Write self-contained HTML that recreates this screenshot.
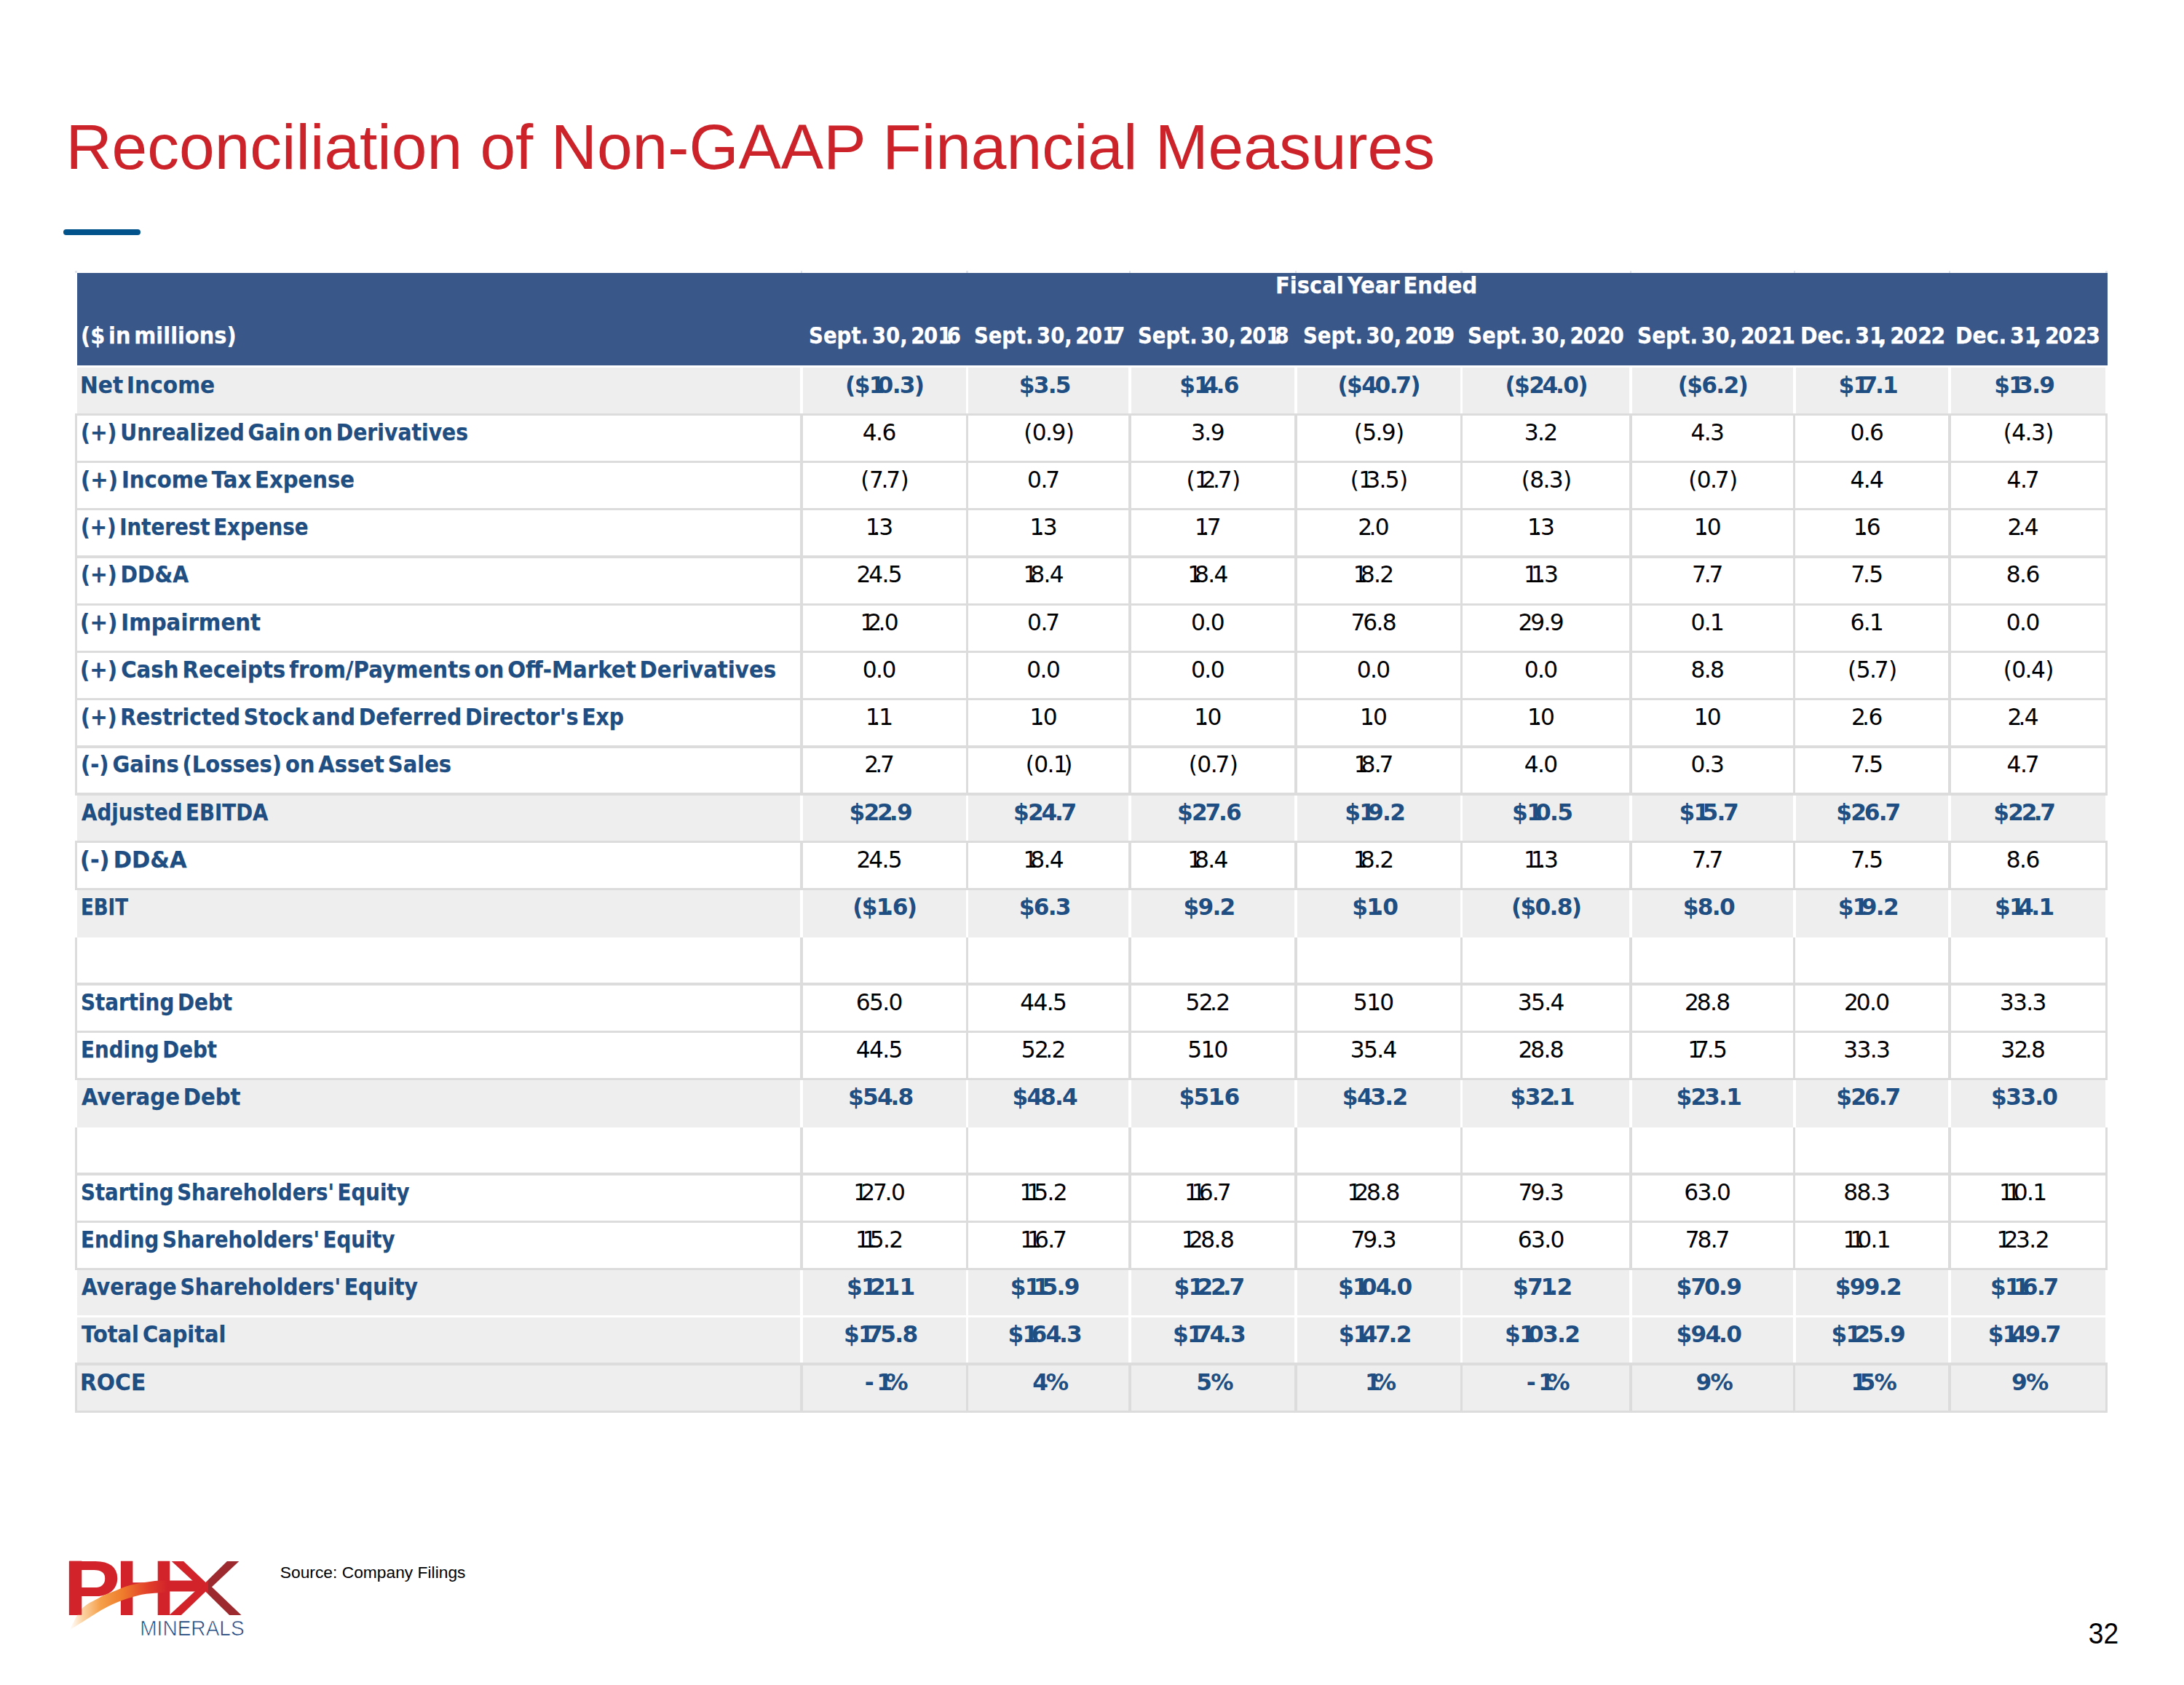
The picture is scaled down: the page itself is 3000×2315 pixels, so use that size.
<!DOCTYPE html>
<html lang="en">
<head>
<meta charset="utf-8">
<title>Reconciliation of Non-GAAP Financial Measures</title>
<style>
html,body{margin:0;padding:0;background:#fff;}
body{width:3000px;height:2315px;position:relative;overflow:hidden;font-family:"DejaVu Sans","Liberation Sans",sans-serif;}
.abs{position:absolute;}
.title{position:absolute;left:90.4px;top:152.1px;font-family:"Liberation Sans",sans-serif;font-size:87.5px;line-height:100px;color:#cc2229;white-space:nowrap;letter-spacing:0px;}
.bar{position:absolute;left:87px;top:315px;width:106px;height:8.4px;border-radius:4.2px;background:#02528b;}
.r{position:absolute;}
.t{position:absolute;white-space:nowrap;font-size:31.25px;line-height:40px;height:40px;}
.lab{font-weight:bold;color:#1f4e82;transform-origin:0 50%;left:110.2px;word-spacing:-0.18em;-webkit-text-stroke:0.25px #1f4e82;}
.hl{font-weight:bold;color:#fff;transform-origin:0 50%;word-spacing:-0.18em;-webkit-text-stroke:0.25px #fff;}
.n{color:#000;text-align:center;letter-spacing:-0.052em;}
.b{font-weight:bold;color:#1f4e82;text-align:center;letter-spacing:-0.055em;}
.t u,.t s{text-decoration:none;}
.t em{font-style:normal;margin-right:0.17em;}
.t u{margin-right:-0.05em;}
.t s{margin-right:-0.1em;}
.n i,.b i,.hl i{font-style:normal;}
.n b{font-weight:normal;margin:0 1px;}
.hl i{margin-right:-0.25em;}
.n i{margin-right:-0.27em;}
.b i{margin-right:-0.26em;}
.n i.p{margin-right:-0.16em;}
.src{position:absolute;left:384.8px;top:2141.6px;font-family:"Liberation Sans",sans-serif;font-size:22.8px;line-height:36px;color:#000;white-space:nowrap;}
.pg{position:absolute;left:2868.8px;top:2218.2px;font-family:"Liberation Sans",sans-serif;font-size:37.2px;line-height:50px;color:#000;white-space:nowrap;transform:scaleY(1.075);transform-origin:0 11.9px;}
</style>
</head>
<body>
<div class="title">Reconciliation of Non-GAAP Financial Measures</div>
<div class="bar"></div>
<div class="r" style="left:103.30px;top:371.50px;width:2.40px;height:3.50px;background:#dfe4ee"></div>
<div class="r" style="left:1099.80px;top:371.50px;width:2.40px;height:3.50px;background:#dfe4ee"></div>
<div class="r" style="left:1327.30px;top:371.50px;width:2.40px;height:3.50px;background:#dfe4ee"></div>
<div class="r" style="left:1550.80px;top:371.50px;width:2.40px;height:3.50px;background:#dfe4ee"></div>
<div class="r" style="left:1778.80px;top:371.50px;width:2.40px;height:3.50px;background:#dfe4ee"></div>
<div class="r" style="left:2006.20px;top:371.50px;width:2.40px;height:3.50px;background:#dfe4ee"></div>
<div class="r" style="left:2238.80px;top:371.50px;width:2.40px;height:3.50px;background:#dfe4ee"></div>
<div class="r" style="left:2463.50px;top:371.50px;width:2.40px;height:3.50px;background:#dfe4ee"></div>
<div class="r" style="left:2676.80px;top:371.50px;width:2.40px;height:3.50px;background:#dfe4ee"></div>
<div class="r" style="left:2892.30px;top:371.50px;width:2.40px;height:3.50px;background:#dfe4ee"></div>
<div class="r" style="left:106.00px;top:375.00px;width:2789.00px;height:126.50px;background:#3a578a"></div>
<div class="r" style="left:106.15px;top:505.40px;width:2785.70px;height:63.80px;background:#eeeeee"></div>
<div class="r" style="left:106.15px;top:1091.12px;width:2785.70px;height:65.24px;background:#eeeeee"></div>
<div class="r" style="left:106.15px;top:1221.60px;width:2785.70px;height:66.89px;background:#eeeeee"></div>
<div class="r" style="left:106.15px;top:1482.56px;width:2785.70px;height:66.89px;background:#eeeeee"></div>
<div class="r" style="left:106.15px;top:1743.52px;width:2785.70px;height:65.24px;background:#eeeeee"></div>
<div class="r" style="left:106.15px;top:1808.76px;width:2785.70px;height:65.24px;background:#eeeeee"></div>
<div class="r" style="left:106.15px;top:1874.00px;width:2785.70px;height:65.24px;background:#eeeeee"></div>
<div class="r" style="left:1099.15px;top:503.96px;width:3.70px;height:65.24px;background:#ffffff"></div>
<div class="r" style="left:1326.65px;top:503.96px;width:3.70px;height:65.24px;background:#ffffff"></div>
<div class="r" style="left:1550.15px;top:503.96px;width:3.70px;height:65.24px;background:#ffffff"></div>
<div class="r" style="left:1778.15px;top:503.96px;width:3.70px;height:65.24px;background:#ffffff"></div>
<div class="r" style="left:2005.55px;top:503.96px;width:3.70px;height:65.24px;background:#ffffff"></div>
<div class="r" style="left:2238.15px;top:503.96px;width:3.70px;height:65.24px;background:#ffffff"></div>
<div class="r" style="left:2462.85px;top:503.96px;width:3.70px;height:65.24px;background:#ffffff"></div>
<div class="r" style="left:2676.15px;top:503.96px;width:3.70px;height:65.24px;background:#ffffff"></div>
<div class="r" style="left:102.85px;top:569.20px;width:3.30px;height:65.24px;background:#dcdcdc"></div>
<div class="r" style="left:1099.35px;top:569.20px;width:3.30px;height:65.24px;background:#dcdcdc"></div>
<div class="r" style="left:1326.85px;top:569.20px;width:3.30px;height:65.24px;background:#dcdcdc"></div>
<div class="r" style="left:1550.35px;top:569.20px;width:3.30px;height:65.24px;background:#dcdcdc"></div>
<div class="r" style="left:1778.35px;top:569.20px;width:3.30px;height:65.24px;background:#dcdcdc"></div>
<div class="r" style="left:2005.75px;top:569.20px;width:3.30px;height:65.24px;background:#dcdcdc"></div>
<div class="r" style="left:2238.35px;top:569.20px;width:3.30px;height:65.24px;background:#dcdcdc"></div>
<div class="r" style="left:2463.05px;top:569.20px;width:3.30px;height:65.24px;background:#dcdcdc"></div>
<div class="r" style="left:2676.35px;top:569.20px;width:3.30px;height:65.24px;background:#dcdcdc"></div>
<div class="r" style="left:2891.85px;top:569.20px;width:3.30px;height:65.24px;background:#dcdcdc"></div>
<div class="r" style="left:102.85px;top:634.44px;width:3.30px;height:65.24px;background:#dcdcdc"></div>
<div class="r" style="left:1099.35px;top:634.44px;width:3.30px;height:65.24px;background:#dcdcdc"></div>
<div class="r" style="left:1326.85px;top:634.44px;width:3.30px;height:65.24px;background:#dcdcdc"></div>
<div class="r" style="left:1550.35px;top:634.44px;width:3.30px;height:65.24px;background:#dcdcdc"></div>
<div class="r" style="left:1778.35px;top:634.44px;width:3.30px;height:65.24px;background:#dcdcdc"></div>
<div class="r" style="left:2005.75px;top:634.44px;width:3.30px;height:65.24px;background:#dcdcdc"></div>
<div class="r" style="left:2238.35px;top:634.44px;width:3.30px;height:65.24px;background:#dcdcdc"></div>
<div class="r" style="left:2463.05px;top:634.44px;width:3.30px;height:65.24px;background:#dcdcdc"></div>
<div class="r" style="left:2676.35px;top:634.44px;width:3.30px;height:65.24px;background:#dcdcdc"></div>
<div class="r" style="left:2891.85px;top:634.44px;width:3.30px;height:65.24px;background:#dcdcdc"></div>
<div class="r" style="left:102.85px;top:699.68px;width:3.30px;height:65.24px;background:#dcdcdc"></div>
<div class="r" style="left:1099.35px;top:699.68px;width:3.30px;height:65.24px;background:#dcdcdc"></div>
<div class="r" style="left:1326.85px;top:699.68px;width:3.30px;height:65.24px;background:#dcdcdc"></div>
<div class="r" style="left:1550.35px;top:699.68px;width:3.30px;height:65.24px;background:#dcdcdc"></div>
<div class="r" style="left:1778.35px;top:699.68px;width:3.30px;height:65.24px;background:#dcdcdc"></div>
<div class="r" style="left:2005.75px;top:699.68px;width:3.30px;height:65.24px;background:#dcdcdc"></div>
<div class="r" style="left:2238.35px;top:699.68px;width:3.30px;height:65.24px;background:#dcdcdc"></div>
<div class="r" style="left:2463.05px;top:699.68px;width:3.30px;height:65.24px;background:#dcdcdc"></div>
<div class="r" style="left:2676.35px;top:699.68px;width:3.30px;height:65.24px;background:#dcdcdc"></div>
<div class="r" style="left:2891.85px;top:699.68px;width:3.30px;height:65.24px;background:#dcdcdc"></div>
<div class="r" style="left:102.85px;top:764.92px;width:3.30px;height:65.24px;background:#dcdcdc"></div>
<div class="r" style="left:1099.35px;top:764.92px;width:3.30px;height:65.24px;background:#dcdcdc"></div>
<div class="r" style="left:1326.85px;top:764.92px;width:3.30px;height:65.24px;background:#dcdcdc"></div>
<div class="r" style="left:1550.35px;top:764.92px;width:3.30px;height:65.24px;background:#dcdcdc"></div>
<div class="r" style="left:1778.35px;top:764.92px;width:3.30px;height:65.24px;background:#dcdcdc"></div>
<div class="r" style="left:2005.75px;top:764.92px;width:3.30px;height:65.24px;background:#dcdcdc"></div>
<div class="r" style="left:2238.35px;top:764.92px;width:3.30px;height:65.24px;background:#dcdcdc"></div>
<div class="r" style="left:2463.05px;top:764.92px;width:3.30px;height:65.24px;background:#dcdcdc"></div>
<div class="r" style="left:2676.35px;top:764.92px;width:3.30px;height:65.24px;background:#dcdcdc"></div>
<div class="r" style="left:2891.85px;top:764.92px;width:3.30px;height:65.24px;background:#dcdcdc"></div>
<div class="r" style="left:102.85px;top:830.16px;width:3.30px;height:65.24px;background:#dcdcdc"></div>
<div class="r" style="left:1099.35px;top:830.16px;width:3.30px;height:65.24px;background:#dcdcdc"></div>
<div class="r" style="left:1326.85px;top:830.16px;width:3.30px;height:65.24px;background:#dcdcdc"></div>
<div class="r" style="left:1550.35px;top:830.16px;width:3.30px;height:65.24px;background:#dcdcdc"></div>
<div class="r" style="left:1778.35px;top:830.16px;width:3.30px;height:65.24px;background:#dcdcdc"></div>
<div class="r" style="left:2005.75px;top:830.16px;width:3.30px;height:65.24px;background:#dcdcdc"></div>
<div class="r" style="left:2238.35px;top:830.16px;width:3.30px;height:65.24px;background:#dcdcdc"></div>
<div class="r" style="left:2463.05px;top:830.16px;width:3.30px;height:65.24px;background:#dcdcdc"></div>
<div class="r" style="left:2676.35px;top:830.16px;width:3.30px;height:65.24px;background:#dcdcdc"></div>
<div class="r" style="left:2891.85px;top:830.16px;width:3.30px;height:65.24px;background:#dcdcdc"></div>
<div class="r" style="left:102.85px;top:895.40px;width:3.30px;height:65.24px;background:#dcdcdc"></div>
<div class="r" style="left:1099.35px;top:895.40px;width:3.30px;height:65.24px;background:#dcdcdc"></div>
<div class="r" style="left:1326.85px;top:895.40px;width:3.30px;height:65.24px;background:#dcdcdc"></div>
<div class="r" style="left:1550.35px;top:895.40px;width:3.30px;height:65.24px;background:#dcdcdc"></div>
<div class="r" style="left:1778.35px;top:895.40px;width:3.30px;height:65.24px;background:#dcdcdc"></div>
<div class="r" style="left:2005.75px;top:895.40px;width:3.30px;height:65.24px;background:#dcdcdc"></div>
<div class="r" style="left:2238.35px;top:895.40px;width:3.30px;height:65.24px;background:#dcdcdc"></div>
<div class="r" style="left:2463.05px;top:895.40px;width:3.30px;height:65.24px;background:#dcdcdc"></div>
<div class="r" style="left:2676.35px;top:895.40px;width:3.30px;height:65.24px;background:#dcdcdc"></div>
<div class="r" style="left:2891.85px;top:895.40px;width:3.30px;height:65.24px;background:#dcdcdc"></div>
<div class="r" style="left:102.85px;top:960.64px;width:3.30px;height:65.24px;background:#dcdcdc"></div>
<div class="r" style="left:1099.35px;top:960.64px;width:3.30px;height:65.24px;background:#dcdcdc"></div>
<div class="r" style="left:1326.85px;top:960.64px;width:3.30px;height:65.24px;background:#dcdcdc"></div>
<div class="r" style="left:1550.35px;top:960.64px;width:3.30px;height:65.24px;background:#dcdcdc"></div>
<div class="r" style="left:1778.35px;top:960.64px;width:3.30px;height:65.24px;background:#dcdcdc"></div>
<div class="r" style="left:2005.75px;top:960.64px;width:3.30px;height:65.24px;background:#dcdcdc"></div>
<div class="r" style="left:2238.35px;top:960.64px;width:3.30px;height:65.24px;background:#dcdcdc"></div>
<div class="r" style="left:2463.05px;top:960.64px;width:3.30px;height:65.24px;background:#dcdcdc"></div>
<div class="r" style="left:2676.35px;top:960.64px;width:3.30px;height:65.24px;background:#dcdcdc"></div>
<div class="r" style="left:2891.85px;top:960.64px;width:3.30px;height:65.24px;background:#dcdcdc"></div>
<div class="r" style="left:102.85px;top:1025.88px;width:3.30px;height:65.24px;background:#dcdcdc"></div>
<div class="r" style="left:1099.35px;top:1025.88px;width:3.30px;height:65.24px;background:#dcdcdc"></div>
<div class="r" style="left:1326.85px;top:1025.88px;width:3.30px;height:65.24px;background:#dcdcdc"></div>
<div class="r" style="left:1550.35px;top:1025.88px;width:3.30px;height:65.24px;background:#dcdcdc"></div>
<div class="r" style="left:1778.35px;top:1025.88px;width:3.30px;height:65.24px;background:#dcdcdc"></div>
<div class="r" style="left:2005.75px;top:1025.88px;width:3.30px;height:65.24px;background:#dcdcdc"></div>
<div class="r" style="left:2238.35px;top:1025.88px;width:3.30px;height:65.24px;background:#dcdcdc"></div>
<div class="r" style="left:2463.05px;top:1025.88px;width:3.30px;height:65.24px;background:#dcdcdc"></div>
<div class="r" style="left:2676.35px;top:1025.88px;width:3.30px;height:65.24px;background:#dcdcdc"></div>
<div class="r" style="left:2891.85px;top:1025.88px;width:3.30px;height:65.24px;background:#dcdcdc"></div>
<div class="r" style="left:1099.15px;top:1091.12px;width:3.70px;height:65.24px;background:#ffffff"></div>
<div class="r" style="left:1326.65px;top:1091.12px;width:3.70px;height:65.24px;background:#ffffff"></div>
<div class="r" style="left:1550.15px;top:1091.12px;width:3.70px;height:65.24px;background:#ffffff"></div>
<div class="r" style="left:1778.15px;top:1091.12px;width:3.70px;height:65.24px;background:#ffffff"></div>
<div class="r" style="left:2005.55px;top:1091.12px;width:3.70px;height:65.24px;background:#ffffff"></div>
<div class="r" style="left:2238.15px;top:1091.12px;width:3.70px;height:65.24px;background:#ffffff"></div>
<div class="r" style="left:2462.85px;top:1091.12px;width:3.70px;height:65.24px;background:#ffffff"></div>
<div class="r" style="left:2676.15px;top:1091.12px;width:3.70px;height:65.24px;background:#ffffff"></div>
<div class="r" style="left:102.85px;top:1156.36px;width:3.30px;height:65.24px;background:#dcdcdc"></div>
<div class="r" style="left:1099.35px;top:1156.36px;width:3.30px;height:65.24px;background:#dcdcdc"></div>
<div class="r" style="left:1326.85px;top:1156.36px;width:3.30px;height:65.24px;background:#dcdcdc"></div>
<div class="r" style="left:1550.35px;top:1156.36px;width:3.30px;height:65.24px;background:#dcdcdc"></div>
<div class="r" style="left:1778.35px;top:1156.36px;width:3.30px;height:65.24px;background:#dcdcdc"></div>
<div class="r" style="left:2005.75px;top:1156.36px;width:3.30px;height:65.24px;background:#dcdcdc"></div>
<div class="r" style="left:2238.35px;top:1156.36px;width:3.30px;height:65.24px;background:#dcdcdc"></div>
<div class="r" style="left:2463.05px;top:1156.36px;width:3.30px;height:65.24px;background:#dcdcdc"></div>
<div class="r" style="left:2676.35px;top:1156.36px;width:3.30px;height:65.24px;background:#dcdcdc"></div>
<div class="r" style="left:2891.85px;top:1156.36px;width:3.30px;height:65.24px;background:#dcdcdc"></div>
<div class="r" style="left:1099.15px;top:1221.60px;width:3.70px;height:66.89px;background:#ffffff"></div>
<div class="r" style="left:1326.65px;top:1221.60px;width:3.70px;height:66.89px;background:#ffffff"></div>
<div class="r" style="left:1550.15px;top:1221.60px;width:3.70px;height:66.89px;background:#ffffff"></div>
<div class="r" style="left:1778.15px;top:1221.60px;width:3.70px;height:66.89px;background:#ffffff"></div>
<div class="r" style="left:2005.55px;top:1221.60px;width:3.70px;height:66.89px;background:#ffffff"></div>
<div class="r" style="left:2238.15px;top:1221.60px;width:3.70px;height:66.89px;background:#ffffff"></div>
<div class="r" style="left:2462.85px;top:1221.60px;width:3.70px;height:66.89px;background:#ffffff"></div>
<div class="r" style="left:2676.15px;top:1221.60px;width:3.70px;height:66.89px;background:#ffffff"></div>
<div class="r" style="left:102.85px;top:1288.49px;width:3.30px;height:63.59px;background:#dcdcdc"></div>
<div class="r" style="left:1099.35px;top:1288.49px;width:3.30px;height:63.59px;background:#dcdcdc"></div>
<div class="r" style="left:1326.85px;top:1288.49px;width:3.30px;height:63.59px;background:#dcdcdc"></div>
<div class="r" style="left:1550.35px;top:1288.49px;width:3.30px;height:63.59px;background:#dcdcdc"></div>
<div class="r" style="left:1778.35px;top:1288.49px;width:3.30px;height:63.59px;background:#dcdcdc"></div>
<div class="r" style="left:2005.75px;top:1288.49px;width:3.30px;height:63.59px;background:#dcdcdc"></div>
<div class="r" style="left:2238.35px;top:1288.49px;width:3.30px;height:63.59px;background:#dcdcdc"></div>
<div class="r" style="left:2463.05px;top:1288.49px;width:3.30px;height:63.59px;background:#dcdcdc"></div>
<div class="r" style="left:2676.35px;top:1288.49px;width:3.30px;height:63.59px;background:#dcdcdc"></div>
<div class="r" style="left:2891.85px;top:1288.49px;width:3.30px;height:63.59px;background:#dcdcdc"></div>
<div class="r" style="left:102.85px;top:1352.08px;width:3.30px;height:65.24px;background:#dcdcdc"></div>
<div class="r" style="left:1099.35px;top:1352.08px;width:3.30px;height:65.24px;background:#dcdcdc"></div>
<div class="r" style="left:1326.85px;top:1352.08px;width:3.30px;height:65.24px;background:#dcdcdc"></div>
<div class="r" style="left:1550.35px;top:1352.08px;width:3.30px;height:65.24px;background:#dcdcdc"></div>
<div class="r" style="left:1778.35px;top:1352.08px;width:3.30px;height:65.24px;background:#dcdcdc"></div>
<div class="r" style="left:2005.75px;top:1352.08px;width:3.30px;height:65.24px;background:#dcdcdc"></div>
<div class="r" style="left:2238.35px;top:1352.08px;width:3.30px;height:65.24px;background:#dcdcdc"></div>
<div class="r" style="left:2463.05px;top:1352.08px;width:3.30px;height:65.24px;background:#dcdcdc"></div>
<div class="r" style="left:2676.35px;top:1352.08px;width:3.30px;height:65.24px;background:#dcdcdc"></div>
<div class="r" style="left:2891.85px;top:1352.08px;width:3.30px;height:65.24px;background:#dcdcdc"></div>
<div class="r" style="left:102.85px;top:1417.32px;width:3.30px;height:65.24px;background:#dcdcdc"></div>
<div class="r" style="left:1099.35px;top:1417.32px;width:3.30px;height:65.24px;background:#dcdcdc"></div>
<div class="r" style="left:1326.85px;top:1417.32px;width:3.30px;height:65.24px;background:#dcdcdc"></div>
<div class="r" style="left:1550.35px;top:1417.32px;width:3.30px;height:65.24px;background:#dcdcdc"></div>
<div class="r" style="left:1778.35px;top:1417.32px;width:3.30px;height:65.24px;background:#dcdcdc"></div>
<div class="r" style="left:2005.75px;top:1417.32px;width:3.30px;height:65.24px;background:#dcdcdc"></div>
<div class="r" style="left:2238.35px;top:1417.32px;width:3.30px;height:65.24px;background:#dcdcdc"></div>
<div class="r" style="left:2463.05px;top:1417.32px;width:3.30px;height:65.24px;background:#dcdcdc"></div>
<div class="r" style="left:2676.35px;top:1417.32px;width:3.30px;height:65.24px;background:#dcdcdc"></div>
<div class="r" style="left:2891.85px;top:1417.32px;width:3.30px;height:65.24px;background:#dcdcdc"></div>
<div class="r" style="left:1099.15px;top:1482.56px;width:3.70px;height:66.89px;background:#ffffff"></div>
<div class="r" style="left:1326.65px;top:1482.56px;width:3.70px;height:66.89px;background:#ffffff"></div>
<div class="r" style="left:1550.15px;top:1482.56px;width:3.70px;height:66.89px;background:#ffffff"></div>
<div class="r" style="left:1778.15px;top:1482.56px;width:3.70px;height:66.89px;background:#ffffff"></div>
<div class="r" style="left:2005.55px;top:1482.56px;width:3.70px;height:66.89px;background:#ffffff"></div>
<div class="r" style="left:2238.15px;top:1482.56px;width:3.70px;height:66.89px;background:#ffffff"></div>
<div class="r" style="left:2462.85px;top:1482.56px;width:3.70px;height:66.89px;background:#ffffff"></div>
<div class="r" style="left:2676.15px;top:1482.56px;width:3.70px;height:66.89px;background:#ffffff"></div>
<div class="r" style="left:102.85px;top:1549.45px;width:3.30px;height:63.59px;background:#dcdcdc"></div>
<div class="r" style="left:1099.35px;top:1549.45px;width:3.30px;height:63.59px;background:#dcdcdc"></div>
<div class="r" style="left:1326.85px;top:1549.45px;width:3.30px;height:63.59px;background:#dcdcdc"></div>
<div class="r" style="left:1550.35px;top:1549.45px;width:3.30px;height:63.59px;background:#dcdcdc"></div>
<div class="r" style="left:1778.35px;top:1549.45px;width:3.30px;height:63.59px;background:#dcdcdc"></div>
<div class="r" style="left:2005.75px;top:1549.45px;width:3.30px;height:63.59px;background:#dcdcdc"></div>
<div class="r" style="left:2238.35px;top:1549.45px;width:3.30px;height:63.59px;background:#dcdcdc"></div>
<div class="r" style="left:2463.05px;top:1549.45px;width:3.30px;height:63.59px;background:#dcdcdc"></div>
<div class="r" style="left:2676.35px;top:1549.45px;width:3.30px;height:63.59px;background:#dcdcdc"></div>
<div class="r" style="left:2891.85px;top:1549.45px;width:3.30px;height:63.59px;background:#dcdcdc"></div>
<div class="r" style="left:102.85px;top:1613.04px;width:3.30px;height:65.24px;background:#dcdcdc"></div>
<div class="r" style="left:1099.35px;top:1613.04px;width:3.30px;height:65.24px;background:#dcdcdc"></div>
<div class="r" style="left:1326.85px;top:1613.04px;width:3.30px;height:65.24px;background:#dcdcdc"></div>
<div class="r" style="left:1550.35px;top:1613.04px;width:3.30px;height:65.24px;background:#dcdcdc"></div>
<div class="r" style="left:1778.35px;top:1613.04px;width:3.30px;height:65.24px;background:#dcdcdc"></div>
<div class="r" style="left:2005.75px;top:1613.04px;width:3.30px;height:65.24px;background:#dcdcdc"></div>
<div class="r" style="left:2238.35px;top:1613.04px;width:3.30px;height:65.24px;background:#dcdcdc"></div>
<div class="r" style="left:2463.05px;top:1613.04px;width:3.30px;height:65.24px;background:#dcdcdc"></div>
<div class="r" style="left:2676.35px;top:1613.04px;width:3.30px;height:65.24px;background:#dcdcdc"></div>
<div class="r" style="left:2891.85px;top:1613.04px;width:3.30px;height:65.24px;background:#dcdcdc"></div>
<div class="r" style="left:102.85px;top:1678.28px;width:3.30px;height:65.24px;background:#dcdcdc"></div>
<div class="r" style="left:1099.35px;top:1678.28px;width:3.30px;height:65.24px;background:#dcdcdc"></div>
<div class="r" style="left:1326.85px;top:1678.28px;width:3.30px;height:65.24px;background:#dcdcdc"></div>
<div class="r" style="left:1550.35px;top:1678.28px;width:3.30px;height:65.24px;background:#dcdcdc"></div>
<div class="r" style="left:1778.35px;top:1678.28px;width:3.30px;height:65.24px;background:#dcdcdc"></div>
<div class="r" style="left:2005.75px;top:1678.28px;width:3.30px;height:65.24px;background:#dcdcdc"></div>
<div class="r" style="left:2238.35px;top:1678.28px;width:3.30px;height:65.24px;background:#dcdcdc"></div>
<div class="r" style="left:2463.05px;top:1678.28px;width:3.30px;height:65.24px;background:#dcdcdc"></div>
<div class="r" style="left:2676.35px;top:1678.28px;width:3.30px;height:65.24px;background:#dcdcdc"></div>
<div class="r" style="left:2891.85px;top:1678.28px;width:3.30px;height:65.24px;background:#dcdcdc"></div>
<div class="r" style="left:1099.15px;top:1743.52px;width:3.70px;height:65.24px;background:#ffffff"></div>
<div class="r" style="left:1326.65px;top:1743.52px;width:3.70px;height:65.24px;background:#ffffff"></div>
<div class="r" style="left:1550.15px;top:1743.52px;width:3.70px;height:65.24px;background:#ffffff"></div>
<div class="r" style="left:1778.15px;top:1743.52px;width:3.70px;height:65.24px;background:#ffffff"></div>
<div class="r" style="left:2005.55px;top:1743.52px;width:3.70px;height:65.24px;background:#ffffff"></div>
<div class="r" style="left:2238.15px;top:1743.52px;width:3.70px;height:65.24px;background:#ffffff"></div>
<div class="r" style="left:2462.85px;top:1743.52px;width:3.70px;height:65.24px;background:#ffffff"></div>
<div class="r" style="left:2676.15px;top:1743.52px;width:3.70px;height:65.24px;background:#ffffff"></div>
<div class="r" style="left:1099.15px;top:1808.76px;width:3.70px;height:65.24px;background:#ffffff"></div>
<div class="r" style="left:1326.65px;top:1808.76px;width:3.70px;height:65.24px;background:#ffffff"></div>
<div class="r" style="left:1550.15px;top:1808.76px;width:3.70px;height:65.24px;background:#ffffff"></div>
<div class="r" style="left:1778.15px;top:1808.76px;width:3.70px;height:65.24px;background:#ffffff"></div>
<div class="r" style="left:2005.55px;top:1808.76px;width:3.70px;height:65.24px;background:#ffffff"></div>
<div class="r" style="left:2238.15px;top:1808.76px;width:3.70px;height:65.24px;background:#ffffff"></div>
<div class="r" style="left:2462.85px;top:1808.76px;width:3.70px;height:65.24px;background:#ffffff"></div>
<div class="r" style="left:2676.15px;top:1808.76px;width:3.70px;height:65.24px;background:#ffffff"></div>
<div class="r" style="left:102.85px;top:1874.00px;width:3.30px;height:65.24px;background:#dcdcdc"></div>
<div class="r" style="left:1099.35px;top:1874.00px;width:3.30px;height:65.24px;background:#dcdcdc"></div>
<div class="r" style="left:1326.85px;top:1874.00px;width:3.30px;height:65.24px;background:#dcdcdc"></div>
<div class="r" style="left:1550.35px;top:1874.00px;width:3.30px;height:65.24px;background:#dcdcdc"></div>
<div class="r" style="left:1778.35px;top:1874.00px;width:3.30px;height:65.24px;background:#dcdcdc"></div>
<div class="r" style="left:2005.75px;top:1874.00px;width:3.30px;height:65.24px;background:#dcdcdc"></div>
<div class="r" style="left:2238.35px;top:1874.00px;width:3.30px;height:65.24px;background:#dcdcdc"></div>
<div class="r" style="left:2463.05px;top:1874.00px;width:3.30px;height:65.24px;background:#dcdcdc"></div>
<div class="r" style="left:2676.35px;top:1874.00px;width:3.30px;height:65.24px;background:#dcdcdc"></div>
<div class="r" style="left:2891.85px;top:1874.00px;width:3.30px;height:65.24px;background:#dcdcdc"></div>
<div class="r" style="left:102.85px;top:567.55px;width:2792.30px;height:3.30px;background:#dcdcdc"></div>
<div class="r" style="left:102.85px;top:632.79px;width:2792.30px;height:3.30px;background:#dcdcdc"></div>
<div class="r" style="left:102.85px;top:698.03px;width:2792.30px;height:3.30px;background:#dcdcdc"></div>
<div class="r" style="left:102.85px;top:763.27px;width:2792.30px;height:3.30px;background:#dcdcdc"></div>
<div class="r" style="left:102.85px;top:828.51px;width:2792.30px;height:3.30px;background:#dcdcdc"></div>
<div class="r" style="left:102.85px;top:893.75px;width:2792.30px;height:3.30px;background:#dcdcdc"></div>
<div class="r" style="left:102.85px;top:958.99px;width:2792.30px;height:3.30px;background:#dcdcdc"></div>
<div class="r" style="left:102.85px;top:1024.23px;width:2792.30px;height:3.30px;background:#dcdcdc"></div>
<div class="r" style="left:102.85px;top:1089.47px;width:2792.30px;height:3.30px;background:#dcdcdc"></div>
<div class="r" style="left:102.85px;top:1154.71px;width:2792.30px;height:3.30px;background:#dcdcdc"></div>
<div class="r" style="left:102.85px;top:1219.95px;width:2792.30px;height:3.30px;background:#dcdcdc"></div>
<div class="r" style="left:102.85px;top:1350.43px;width:2792.30px;height:3.30px;background:#dcdcdc"></div>
<div class="r" style="left:102.85px;top:1415.67px;width:2792.30px;height:3.30px;background:#dcdcdc"></div>
<div class="r" style="left:102.85px;top:1480.91px;width:2792.30px;height:3.30px;background:#dcdcdc"></div>
<div class="r" style="left:102.85px;top:1611.39px;width:2792.30px;height:3.30px;background:#dcdcdc"></div>
<div class="r" style="left:102.85px;top:1676.63px;width:2792.30px;height:3.30px;background:#dcdcdc"></div>
<div class="r" style="left:102.85px;top:1741.87px;width:2792.30px;height:3.30px;background:#dcdcdc"></div>
<div class="r" style="left:106.15px;top:1807.11px;width:2785.70px;height:3.30px;background:#ffffff"></div>
<div class="r" style="left:102.85px;top:1872.35px;width:2792.30px;height:3.30px;background:#dcdcdc"></div>
<div class="r" style="left:102.85px;top:1937.59px;width:2792.30px;height:3.30px;background:#dcdcdc"></div>
<div class="t hl" id="h_mil" style="left:111.4px;top:441.0px;transform:scaleX(0.9225)">($ in millions)</div>
<div class="t hl" id="h_fy" style="left:1752.2px;top:372.2px;transform:scaleX(0.9287)">Fiscal Year Ended</div>
<div class="t hl" id="h_c0" style="left:1110.6px;top:441.0px;transform:scaleX(0.8836)">Sept. 30, <u>2</u>0<i>1</i>6</div>
<div class="t hl" id="h_c1" style="left:1337.5px;top:441.0px;transform:scaleX(0.8776)">Sept. 30, <u>2</u>0<i>1</i>7</div>
<div class="t hl" id="h_c2" style="left:1563.2px;top:441.0px;transform:scaleX(0.8785)">Sept. 30, <u>2</u>0<i>1</i>8</div>
<div class="t hl" id="h_c3" style="left:1790.4px;top:441.0px;transform:scaleX(0.8811)">Sept. 30, <u>2</u>0<i>1</i>9</div>
<div class="t hl" id="h_c4" style="left:2016.3px;top:441.0px;transform:scaleX(0.8856)">Sept. 30, <u>2</u>0<u>2</u>0</div>
<div class="t hl" id="h_c5" style="left:2248.8px;top:441.0px;transform:scaleX(0.8942)">Sept. 30, <u>2</u>0<u>2</u>1</div>
<div class="t hl" id="h_c6" style="left:2472.8px;top:441.0px;transform:scaleX(0.9082)">Dec. 3<i>1</i>, <u>2</u>0<u>2</u>2</div>
<div class="t hl" id="h_c7" style="left:2685.9px;top:441.0px;transform:scaleX(0.9063)">Dec. 3<i>1</i>, <u>2</u>0<u>2</u>3</div>
<div class="t lab" id="l0" style="left:110.4px;top:508.5px;transform:scaleX(0.9486)">Net Income</div>
<div class="t b" style="left:1101.0px;width:227.5px;top:508.5px">($<i>1</i>0.3)</div>
<div class="t b" style="left:1328.5px;width:212.5px;top:508.5px">$3.5</div>
<div class="t b" style="left:1552.0px;width:217.0px;top:508.5px">$<i>1</i><u>4</u>.6</div>
<div class="t b" style="left:1780.0px;width:227.4px;top:508.5px">($<u>4</u>0<u>.</u>7)</div>
<div class="t b" style="left:2007.4px;width:232.6px;top:508.5px">($<u>2</u><u>4</u>.0)</div>
<div class="t b" style="left:2240.0px;width:224.7px;top:508.5px">($6.2)</div>
<div class="t b" style="left:2464.7px;width:202.3px;top:508.5px">$<i>1</i><u>7</u>.1</div>
<div class="t b" style="left:2678.0px;width:204.5px;top:508.5px">$<i>1</i>3.9</div>
<div class="t lab" id="l1" style="left:111.4px;top:573.7px;transform:scaleX(0.9046)">(+) Unrealized Gain on Derivatives</div>
<div class="t n" style="left:1101.0px;width:212.5px;top:573.7px">4.6</div>
<div class="t n" style="left:1328.5px;width:223.5px;top:573.7px"><b>(</b>0.9<b>)</b></div>
<div class="t n" style="left:1552.0px;width:213.0px;top:573.7px">3.9</div>
<div class="t n" style="left:1780.0px;width:227.4px;top:573.7px"><b>(</b>5.9<b>)</b></div>
<div class="t n" style="left:2007.4px;width:217.6px;top:573.7px">3.2</div>
<div class="t n" style="left:2240.0px;width:209.7px;top:573.7px">4.3</div>
<div class="t n" style="left:2464.7px;width:198.3px;top:573.7px">0.6</div>
<div class="t n" style="left:2678.0px;width:215.5px;top:573.7px"><b>(</b>4.3<b>)</b></div>
<div class="t lab" id="l2" style="left:111.4px;top:638.9px;transform:scaleX(0.9314)">(+) Income Tax Expense</div>
<div class="t n" style="left:1101.0px;width:227.5px;top:638.9px"><b>(</b><u>7</u><u>.</u>7<b>)</b></div>
<div class="t n" style="left:1328.5px;width:208.5px;top:638.9px">0<u>.</u>7</div>
<div class="t n" style="left:1552.0px;width:228.0px;top:638.9px"><b>(</b><i>1</i><s>2</s><u>.</u>7<b>)</b></div>
<div class="t n" style="left:1780.0px;width:227.4px;top:638.9px"><b>(</b><i>1</i>3.5<b>)</b></div>
<div class="t n" style="left:2007.4px;width:232.6px;top:638.9px"><b>(</b>8.3<b>)</b></div>
<div class="t n" style="left:2240.0px;width:224.7px;top:638.9px"><b>(</b>0<u>.</u>7<b>)</b></div>
<div class="t n" style="left:2464.7px;width:198.3px;top:638.9px">4.4</div>
<div class="t n" style="left:2678.0px;width:200.5px;top:638.9px">4<u>.</u>7</div>
<div class="t lab" id="l3" style="left:111.4px;top:704.2px;transform:scaleX(0.8867)">(+) Interest Expense</div>
<div class="t n" style="left:1101.0px;width:212.5px;top:704.2px"><i>1</i>.3</div>
<div class="t n" style="left:1328.5px;width:208.5px;top:704.2px"><i>1</i>.3</div>
<div class="t n" style="left:1552.0px;width:213.0px;top:704.2px"><i>1</i><u>.</u>7</div>
<div class="t n" style="left:1780.0px;width:212.4px;top:704.2px"><s>2</s>.0</div>
<div class="t n" style="left:2007.4px;width:217.6px;top:704.2px"><i>1</i>.3</div>
<div class="t n" style="left:2240.0px;width:209.7px;top:704.2px"><i>1</i>.0</div>
<div class="t n" style="left:2464.7px;width:198.3px;top:704.2px"><i>1</i>.6</div>
<div class="t n" style="left:2678.0px;width:200.5px;top:704.2px"><s>2</s>.4</div>
<div class="t lab" id="l4" style="left:111.4px;top:769.4px;transform:scaleX(0.9067)">(+) DD&amp;A</div>
<div class="t n" style="left:1101.0px;width:212.5px;top:769.4px"><u>2</u>4.5</div>
<div class="t n" style="left:1328.5px;width:208.5px;top:769.4px"><i>1</i>8.4</div>
<div class="t n" style="left:1552.0px;width:213.0px;top:769.4px"><i>1</i>8.4</div>
<div class="t n" style="left:1780.0px;width:212.4px;top:769.4px"><i>1</i>8.2</div>
<div class="t n" style="left:2007.4px;width:217.6px;top:769.4px"><i>1</i><i>1</i>.3</div>
<div class="t n" style="left:2240.0px;width:209.7px;top:769.4px"><u>7</u><u>.</u>7</div>
<div class="t n" style="left:2464.7px;width:198.3px;top:769.4px"><u>7</u>.5</div>
<div class="t n" style="left:2678.0px;width:200.5px;top:769.4px">8.6</div>
<div class="t lab" id="l5" style="left:110.4px;top:834.7px;transform:scaleX(0.9372)">(+) Impairment</div>
<div class="t n" style="left:1101.0px;width:212.5px;top:834.7px"><i>1</i><s>2</s>.0</div>
<div class="t n" style="left:1328.5px;width:208.5px;top:834.7px">0<u>.</u>7</div>
<div class="t n" style="left:1552.0px;width:213.0px;top:834.7px">0.0</div>
<div class="t n" style="left:1780.0px;width:212.4px;top:834.7px"><u>7</u>6.8</div>
<div class="t n" style="left:2007.4px;width:217.6px;top:834.7px"><u>2</u>9.9</div>
<div class="t n" style="left:2240.0px;width:209.7px;top:834.7px">0.1</div>
<div class="t n" style="left:2464.7px;width:198.3px;top:834.7px">6.1</div>
<div class="t n" style="left:2678.0px;width:200.5px;top:834.7px">0.0</div>
<div class="t lab" id="l6" style="left:110.4px;top:899.9px;transform:scaleX(0.9355)">(+) Cash Receipts from/Payments on Off-Market Derivatives</div>
<div class="t n" style="left:1101.0px;width:212.5px;top:899.9px">0.0</div>
<div class="t n" style="left:1328.5px;width:208.5px;top:899.9px">0.0</div>
<div class="t n" style="left:1552.0px;width:213.0px;top:899.9px">0.0</div>
<div class="t n" style="left:1780.0px;width:212.4px;top:899.9px">0.0</div>
<div class="t n" style="left:2007.4px;width:217.6px;top:899.9px">0.0</div>
<div class="t n" style="left:2240.0px;width:209.7px;top:899.9px">8.8</div>
<div class="t n" style="left:2464.7px;width:213.3px;top:899.9px"><b>(</b>5<u>.</u>7<b>)</b></div>
<div class="t n" style="left:2678.0px;width:215.5px;top:899.9px"><b>(</b>0.4<b>)</b></div>
<div class="t lab" id="l7" style="left:111.4px;top:965.1px;transform:scaleX(0.9053)">(+) Restricted Stock and Deferred Director's Exp</div>
<div class="t n" style="left:1101.0px;width:212.5px;top:965.1px"><i>1</i>.1</div>
<div class="t n" style="left:1328.5px;width:208.5px;top:965.1px"><i>1</i>.0</div>
<div class="t n" style="left:1552.0px;width:213.0px;top:965.1px"><i>1</i>.0</div>
<div class="t n" style="left:1780.0px;width:212.4px;top:965.1px"><i>1</i>.0</div>
<div class="t n" style="left:2007.4px;width:217.6px;top:965.1px"><i>1</i>.0</div>
<div class="t n" style="left:2240.0px;width:209.7px;top:965.1px"><i>1</i>.0</div>
<div class="t n" style="left:2464.7px;width:198.3px;top:965.1px"><s>2</s>.6</div>
<div class="t n" style="left:2678.0px;width:200.5px;top:965.1px"><s>2</s>.4</div>
<div class="t lab" id="l8" style="left:111.4px;top:1030.4px;transform:scaleX(0.9284)">(-) Gains (Losses) on Asset Sales</div>
<div class="t n" style="left:1101.0px;width:212.5px;top:1030.4px"><s>2</s><u>.</u>7</div>
<div class="t n" style="left:1328.5px;width:223.5px;top:1030.4px"><b>(</b>0.<i class="p">1</i><b>)</b></div>
<div class="t n" style="left:1552.0px;width:228.0px;top:1030.4px"><b>(</b>0<u>.</u>7<b>)</b></div>
<div class="t n" style="left:1780.0px;width:212.4px;top:1030.4px"><i>1</i>8<u>.</u>7</div>
<div class="t n" style="left:2007.4px;width:217.6px;top:1030.4px">4.0</div>
<div class="t n" style="left:2240.0px;width:209.7px;top:1030.4px">0.3</div>
<div class="t n" style="left:2464.7px;width:198.3px;top:1030.4px"><u>7</u>.5</div>
<div class="t n" style="left:2678.0px;width:200.5px;top:1030.4px">4<u>.</u>7</div>
<div class="t lab" id="l9" style="left:112.0px;top:1095.6px;transform:scaleX(0.8841)">Adjusted EBITDA</div>
<div class="t b" style="left:1101.0px;width:216.5px;top:1095.6px">$<u>2</u><s>2</s>.9</div>
<div class="t b" style="left:1328.5px;width:212.5px;top:1095.6px">$<u>2</u><u>4</u><u>.</u>7</div>
<div class="t b" style="left:1552.0px;width:217.0px;top:1095.6px">$<u>2</u><u>7</u>.6</div>
<div class="t b" style="left:1780.0px;width:216.4px;top:1095.6px">$<i>1</i>9.2</div>
<div class="t b" style="left:2007.4px;width:221.6px;top:1095.6px">$<i>1</i>0.5</div>
<div class="t b" style="left:2240.0px;width:213.7px;top:1095.6px">$<i>1</i>5<u>.</u>7</div>
<div class="t b" style="left:2464.7px;width:202.3px;top:1095.6px">$<u>2</u>6<u>.</u>7</div>
<div class="t b" style="left:2678.0px;width:204.5px;top:1095.6px">$<u>2</u><s>2</s><u>.</u>7</div>
<div class="t lab" id="l10" style="left:110.4px;top:1160.9px;transform:scaleX(0.9766)">(-) DD&amp;A</div>
<div class="t n" style="left:1101.0px;width:212.5px;top:1160.9px"><u>2</u>4.5</div>
<div class="t n" style="left:1328.5px;width:208.5px;top:1160.9px"><i>1</i>8.4</div>
<div class="t n" style="left:1552.0px;width:213.0px;top:1160.9px"><i>1</i>8.4</div>
<div class="t n" style="left:1780.0px;width:212.4px;top:1160.9px"><i>1</i>8.2</div>
<div class="t n" style="left:2007.4px;width:217.6px;top:1160.9px"><i>1</i><i>1</i>.3</div>
<div class="t n" style="left:2240.0px;width:209.7px;top:1160.9px"><u>7</u><u>.</u>7</div>
<div class="t n" style="left:2464.7px;width:198.3px;top:1160.9px"><u>7</u>.5</div>
<div class="t n" style="left:2678.0px;width:200.5px;top:1160.9px">8.6</div>
<div class="t lab" id="l11" style="left:111.4px;top:1226.1px;transform:scaleX(0.8327)">EBIT</div>
<div class="t b" style="left:1101.0px;width:227.5px;top:1226.1px">($<i>1</i>.6)</div>
<div class="t b" style="left:1328.5px;width:212.5px;top:1226.1px">$6.3</div>
<div class="t b" style="left:1552.0px;width:217.0px;top:1226.1px">$9.2</div>
<div class="t b" style="left:1780.0px;width:216.4px;top:1226.1px">$<i>1</i>.0</div>
<div class="t b" style="left:2007.4px;width:232.6px;top:1226.1px">($0.8)</div>
<div class="t b" style="left:2240.0px;width:213.7px;top:1226.1px">$8.0</div>
<div class="t b" style="left:2464.7px;width:202.3px;top:1226.1px">$<i>1</i>9.2</div>
<div class="t b" style="left:2678.0px;width:204.5px;top:1226.1px">$<i>1</i><u>4</u>.1</div>
<div class="t lab" id="l13" style="left:111.4px;top:1356.6px;transform:scaleX(0.8896)">Starting Debt</div>
<div class="t n" style="left:1101.0px;width:212.5px;top:1356.6px">65.0</div>
<div class="t n" style="left:1328.5px;width:208.5px;top:1356.6px">44.5</div>
<div class="t n" style="left:1552.0px;width:213.0px;top:1356.6px">5<s>2</s>.2</div>
<div class="t n" style="left:1780.0px;width:212.4px;top:1356.6px">5<i>1</i>.0</div>
<div class="t n" style="left:2007.4px;width:217.6px;top:1356.6px">35.4</div>
<div class="t n" style="left:2240.0px;width:209.7px;top:1356.6px"><u>2</u>8.8</div>
<div class="t n" style="left:2464.7px;width:198.3px;top:1356.6px"><u>2</u>0.0</div>
<div class="t n" style="left:2678.0px;width:200.5px;top:1356.6px">33.3</div>
<div class="t lab" id="l14" style="left:111.4px;top:1421.8px;transform:scaleX(0.8867)">Ending Debt</div>
<div class="t n" style="left:1101.0px;width:212.5px;top:1421.8px">44.5</div>
<div class="t n" style="left:1328.5px;width:208.5px;top:1421.8px">5<s>2</s>.2</div>
<div class="t n" style="left:1552.0px;width:213.0px;top:1421.8px">5<i>1</i>.0</div>
<div class="t n" style="left:1780.0px;width:212.4px;top:1421.8px">35.4</div>
<div class="t n" style="left:2007.4px;width:217.6px;top:1421.8px"><u>2</u>8.8</div>
<div class="t n" style="left:2240.0px;width:209.7px;top:1421.8px"><i>1</i><u>7</u>.5</div>
<div class="t n" style="left:2464.7px;width:198.3px;top:1421.8px">33.3</div>
<div class="t n" style="left:2678.0px;width:200.5px;top:1421.8px">3<s>2</s>.8</div>
<div class="t lab" id="l15" style="left:112.0px;top:1487.1px;transform:scaleX(0.9322)">Average Debt</div>
<div class="t b" style="left:1101.0px;width:216.5px;top:1487.1px">$5<u>4</u>.8</div>
<div class="t b" style="left:1328.5px;width:212.5px;top:1487.1px">$<u>4</u>8.4</div>
<div class="t b" style="left:1552.0px;width:217.0px;top:1487.1px">$5<i>1</i>.6</div>
<div class="t b" style="left:1780.0px;width:216.4px;top:1487.1px">$<u>4</u>3.2</div>
<div class="t b" style="left:2007.4px;width:221.6px;top:1487.1px">$3<s>2</s>.1</div>
<div class="t b" style="left:2240.0px;width:213.7px;top:1487.1px">$<u>2</u>3.1</div>
<div class="t b" style="left:2464.7px;width:202.3px;top:1487.1px">$<u>2</u>6<u>.</u>7</div>
<div class="t b" style="left:2678.0px;width:204.5px;top:1487.1px">$33.0</div>
<div class="t lab" id="l17" style="left:111.4px;top:1617.5px;transform:scaleX(0.8842)">Starting Shareholders' Equity</div>
<div class="t n" style="left:1101.0px;width:212.5px;top:1617.5px"><i>1</i><u>2</u><u>7</u>.0</div>
<div class="t n" style="left:1328.5px;width:208.5px;top:1617.5px"><i>1</i><i>1</i>5.2</div>
<div class="t n" style="left:1552.0px;width:213.0px;top:1617.5px"><i>1</i><i>1</i>6<u>.</u>7</div>
<div class="t n" style="left:1780.0px;width:212.4px;top:1617.5px"><i>1</i><u>2</u>8.8</div>
<div class="t n" style="left:2007.4px;width:217.6px;top:1617.5px"><u>7</u>9.3</div>
<div class="t n" style="left:2240.0px;width:209.7px;top:1617.5px">63.0</div>
<div class="t n" style="left:2464.7px;width:198.3px;top:1617.5px">88.3</div>
<div class="t n" style="left:2678.0px;width:200.5px;top:1617.5px"><i>1</i><i>1</i>0.1</div>
<div class="t lab" id="l18" style="left:111.4px;top:1682.8px;transform:scaleX(0.8848)">Ending Shareholders' Equity</div>
<div class="t n" style="left:1101.0px;width:212.5px;top:1682.8px"><i>1</i><i>1</i>5.2</div>
<div class="t n" style="left:1328.5px;width:208.5px;top:1682.8px"><i>1</i><i>1</i>6<u>.</u>7</div>
<div class="t n" style="left:1552.0px;width:213.0px;top:1682.8px"><i>1</i><u>2</u>8.8</div>
<div class="t n" style="left:1780.0px;width:212.4px;top:1682.8px"><u>7</u>9.3</div>
<div class="t n" style="left:2007.4px;width:217.6px;top:1682.8px">63.0</div>
<div class="t n" style="left:2240.0px;width:209.7px;top:1682.8px"><u>7</u>8<u>.</u>7</div>
<div class="t n" style="left:2464.7px;width:198.3px;top:1682.8px"><i>1</i><i>1</i>0.1</div>
<div class="t n" style="left:2678.0px;width:200.5px;top:1682.8px"><i>1</i><u>2</u>3.2</div>
<div class="t lab" id="l19" style="left:112.0px;top:1748.0px;transform:scaleX(0.9037)">Average Shareholders' Equity</div>
<div class="t b" style="left:1101.0px;width:216.5px;top:1748.0px">$<i>1</i><u>2</u><i>1</i>.1</div>
<div class="t b" style="left:1328.5px;width:212.5px;top:1748.0px">$<i>1</i><i>1</i>5.9</div>
<div class="t b" style="left:1552.0px;width:217.0px;top:1748.0px">$<i>1</i><u>2</u><s>2</s><u>.</u>7</div>
<div class="t b" style="left:1780.0px;width:216.4px;top:1748.0px">$<i>1</i>0<u>4</u>.0</div>
<div class="t b" style="left:2007.4px;width:221.6px;top:1748.0px">$<u>7</u><i>1</i>.2</div>
<div class="t b" style="left:2240.0px;width:213.7px;top:1748.0px">$<u>7</u>0.9</div>
<div class="t b" style="left:2464.7px;width:202.3px;top:1748.0px">$99.2</div>
<div class="t b" style="left:2678.0px;width:204.5px;top:1748.0px">$<i>1</i><i>1</i>6<u>.</u>7</div>
<div class="t lab" id="l20" style="left:112.0px;top:1813.3px;transform:scaleX(0.9256)">Total Capital</div>
<div class="t b" style="left:1101.0px;width:216.5px;top:1813.3px">$<i>1</i><u>7</u>5.8</div>
<div class="t b" style="left:1328.5px;width:212.5px;top:1813.3px">$<i>1</i>6<u>4</u>.3</div>
<div class="t b" style="left:1552.0px;width:217.0px;top:1813.3px">$<i>1</i><u>7</u><u>4</u>.3</div>
<div class="t b" style="left:1780.0px;width:216.4px;top:1813.3px">$<i>1</i><u>4</u><u>7</u>.2</div>
<div class="t b" style="left:2007.4px;width:221.6px;top:1813.3px">$<i>1</i>03.2</div>
<div class="t b" style="left:2240.0px;width:213.7px;top:1813.3px">$9<u>4</u>.0</div>
<div class="t b" style="left:2464.7px;width:202.3px;top:1813.3px">$<i>1</i><u>2</u>5.9</div>
<div class="t b" style="left:2678.0px;width:204.5px;top:1813.3px">$<i>1</i><u>4</u>9<u>.</u>7</div>
<div class="t lab" id="l21" style="left:110.4px;top:1878.5px;transform:scaleX(0.9505)">ROCE</div>
<div class="t b" style="left:1101.0px;width:231.5px;top:1878.5px"><em>-</em><i>1</i>%</div>
<div class="t b" style="left:1328.5px;width:227.5px;top:1878.5px"><u>4</u>%</div>
<div class="t b" style="left:1552.0px;width:232.0px;top:1878.5px">5%</div>
<div class="t b" style="left:1780.0px;width:231.4px;top:1878.5px"><i>1</i>%</div>
<div class="t b" style="left:2007.4px;width:236.6px;top:1878.5px"><em>-</em><i>1</i>%</div>
<div class="t b" style="left:2240.0px;width:228.7px;top:1878.5px">9%</div>
<div class="t b" style="left:2464.7px;width:217.3px;top:1878.5px"><i>1</i>5%</div>
<div class="t b" style="left:2678.0px;width:219.5px;top:1878.5px">9%</div>
<div class="src">Source: Company Filings</div>
<div class="pg">32</div>
<svg class="abs" style="left:80px;top:2120px" width="290" height="150" viewBox="0 0 290 150">
<defs>
<linearGradient id="xg" x1="0" y1="0" x2="1" y2="0"><stop offset="0.535" stop-color="#d2232a"/><stop offset="0.535" stop-color="#9c2a2e"/></linearGradient>
<linearGradient id="sw" gradientUnits="userSpaceOnUse" x1="14" y1="0" x2="150" y2="0"><stop offset="0" stop-color="#fde3c4" stop-opacity="0"/><stop offset="0.14" stop-color="#fbcf9b" stop-opacity="0.9"/><stop offset="0.32" stop-color="#f5a04a"/><stop offset="0.55" stop-color="#ee7c2c"/><stop offset="0.8" stop-color="#e2402a"/><stop offset="1" stop-color="#d2232a"/></linearGradient>
</defs>
<text transform="translate(6.9,98.7) scale(1.173,1.0768)" x="0" y="0" font-family="Liberation Sans, sans-serif" font-weight="bold" font-size="100" fill="#d2232a">P</text>
<text transform="translate(78.2,98.7) scale(1.145,1.0768)" x="0" y="0" font-family="Liberation Sans, sans-serif" font-weight="bold" font-size="100" fill="#d2232a">H</text>
<text transform="translate(149,98.7) scale(1.587,1.0768)" x="0" y="0" font-family="Liberation Sans, sans-serif" font-size="100" fill="url(#xg)">X</text>
<path d="M150 51.5 H189 L200 59.5 L192 66.6 H150 Z" fill="#d2232a"/>
<path d="M16.0 119.0 C18.7 114.2 25.4 97.8 32.1 90.5 C38.8 83.2 49.2 79.1 56.3 75.2 C63.4 71.3 67.3 70.0 74.6 67.1 C81.9 64.2 91.0 60.0 100.2 57.6 C109.4 55.2 120.9 53.5 129.5 52.5 C138.1 51.5 148.2 51.5 152.0 51.3 L152.0 67.0 C149.5 67.3 143.1 68.0 136.9 68.6 C130.7 69.2 123.5 69.0 114.9 70.8 C106.4 72.6 94.1 76.4 85.6 79.6 C77.0 82.8 70.3 86.3 63.6 89.8 C56.9 93.3 52.0 96.6 45.3 100.8 C38.6 105.0 28.2 111.7 23.3 114.7 C18.4 117.7 17.2 118.3 16.0 119.0 Z" fill="url(#sw)"/>
<rect x="15.1" y="24.6" width="17.2" height="74.1" fill="#d2232a"/>
<text transform="translate(112.2,126.7) scale(0.955,1)" x="0" y="0" font-family="Liberation Sans, sans-serif" font-size="29.4" fill="#173f78" stroke="#ffffff" stroke-width="0.7">MINERALS</text>
</svg>
</body>
</html>
